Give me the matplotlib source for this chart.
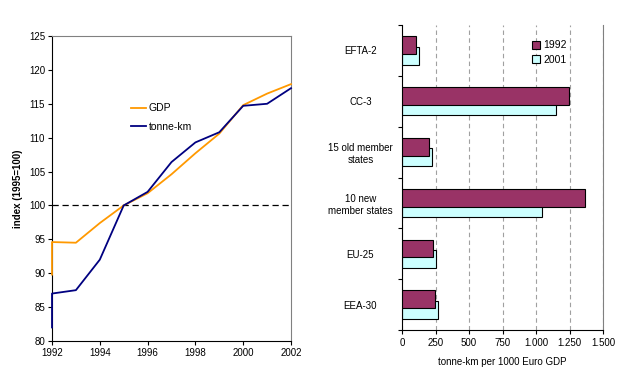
import matplotlib.pyplot as plt
import numpy as np

plt.rcParams['font.family'] = ['Liberation Sans', 'DejaVu Sans']
plt.rcParams['font.size'] = 7

# left panel: index 1995=100 (the first point repeats 1992, as in the original)
years = [1992, 1992, 1993, 1994, 1995, 1996, 1997, 1998, 1999, 2000, 2001, 2002]
gdp = [89.8, 94.6, 94.5, 97.4, 100.0, 101.8, 104.6, 107.7, 110.6, 114.8, 116.5, 117.9]
tkm = [82.0, 87.0, 87.5, 92.0, 100.0, 102.0, 106.4, 109.3, 110.8, 114.7, 115.0, 117.3]

# right panel: tonne-km per 1000 Euro GDP
regions = ["EFTA-2", "CC-3", "15 old member\nstates", "10 new\nmember states", "EU-25", "EEA-30"]
v1992 = [105, 1246, 199, 1369, 232, 244]
v2001 = [125, 1152, 224, 1047, 251, 266]

fig = plt.figure(figsize=(6.31, 3.83), dpi=100)

# ---- line chart
ax1 = fig.add_axes([52 / 631, 1 - 341 / 383, 239 / 631, 305 / 383])
ax1.plot(years, gdp, color="#FF9900", lw=1.3, label="GDP", zorder=3, clip_on=False)
ax1.plot(years, tkm, color="#000080", lw=1.3, label="tonne-km", zorder=3, clip_on=False)
ax1.axhline(100, color="black", lw=0.9, ls=(0, (5, 3)))
ax1.set_xlim(1992, 2002)
ax1.set_ylim(80, 125)
ax1.set_xticks(range(1992, 2003, 2))
ax1.set_yticks(range(80, 126, 5))
ax1.set_ylabel("index (1995=100)", fontweight="bold", labelpad=4)
ax1.tick_params(direction="out", length=3, width=0.8, pad=2)
for s in ["top", "right"]:
    ax1.spines[s].set_color("#808080")
    ax1.spines[s].set_linewidth(0.8)
for s in ["left", "bottom"]:
    ax1.spines[s].set_linewidth(0.8)
ax1.legend(loc="upper left", bbox_to_anchor=(0.29, 0.81), frameon=False,
           handlelength=1.5, handletextpad=0.2, labelspacing=0.8, fontsize=7.5)

# ---- bar chart
ax2 = fig.add_axes([402 / 631, 1 - 330 / 383, 201 / 631, 305 / 383])
pos = np.arange(len(regions))
ax2.barh(pos + 0.104, v2001, height=0.35, color="#CCFFFF", edgecolor="black",
         lw=0.8, label="2001", zorder=2)
ax2.barh(pos - 0.104, v1992, height=0.35, color="#993366", edgecolor="black",
         lw=0.8, label="1992", zorder=3)
ax2.set_ylim(len(regions) - 0.5, -0.5)
ax2.set_xlim(0, 1500)
ax2.set_xticks(range(0, 1501, 250))
ax2.set_xticklabels([f"{v:,}".replace(",", ".") for v in range(0, 1501, 250)])
ax2.set_yticks(pos)
ax2.set_yticklabels(regions, ha="center")
ax2.set_yticks(np.arange(-0.5, len(regions)), minor=True)
ax2.tick_params(axis="y", which="major", length=0, pad=30)
ax2.tick_params(axis="y", which="minor", direction="out", length=3, width=0.8)
ax2.tick_params(axis="x", direction="out", length=3, width=0.8, pad=3)
ax2.xaxis.grid(True, color="#A0A0A0", ls=(0, (4, 3)), lw=0.8, zorder=0)
ax2.set_axisbelow(True)
ax2.spines["top"].set_visible(False)
ax2.spines["right"].set_color("#808080")
ax2.spines["right"].set_linewidth(0.8)
for s in ["left", "bottom"]:
    ax2.spines[s].set_linewidth(0.8)
ax2.set_xlabel("tonne-km per 1000 Euro GDP", labelpad=6)
h, l = ax2.get_legend_handles_labels()
ax2.legend(h[::-1], l[::-1], loc="upper left", bbox_to_anchor=(0.6, 0.98),
           frameon=False, handlelength=0.8, handleheight=0.8,
           handletextpad=0.3, labelspacing=0.4, fontsize=7.5)

fig.savefig("out.png", dpi=100)
